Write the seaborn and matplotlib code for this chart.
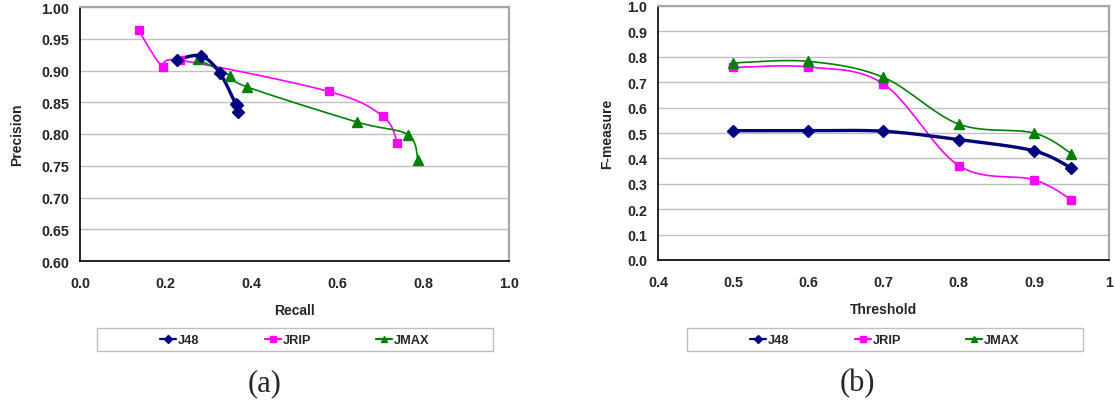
import numpy as np
import pandas as pd
import matplotlib
matplotlib.use("Agg")
import matplotlib.pyplot as plt
from matplotlib.patches import Rectangle
from matplotlib.lines import Line2D
import seaborn as sns

# ---- data -------------------------------------------------------------
classifiers = ["J48", "JRIP", "JMAX"]
thresholds = [0.5, 0.6, 0.7, 0.8, 0.9, 0.95]

# precision / recall per threshold
recall_j48 = [0.369, 0.365, 0.363, 0.326, 0.282, 0.226]
precision_j48 = [0.834, 0.845, 0.847, 0.896, 0.923, 0.917]
recall_jrip = [0.740, 0.706, 0.580, 0.234, 0.193, 0.137]
precision_jrip = [0.786, 0.828, 0.867, 0.916, 0.906, 0.963]
recall_jmax = [0.788, 0.764, 0.645, 0.390, 0.350, 0.274]
precision_jmax = [0.759, 0.799, 0.819, 0.874, 0.892, 0.918]

# F-measure per threshold
fmeasure_j48 = [0.509, 0.509, 0.507, 0.474, 0.430, 0.362]
fmeasure_jrip = [0.758, 0.760, 0.693, 0.372, 0.316, 0.237]
fmeasure_jmax = [0.776, 0.782, 0.719, 0.535, 0.500, 0.419]

x_ticks_a = [0.0, 0.2, 0.4, 0.6, 0.8, 1.0]
y_ticks_a = [0.60, 0.65, 0.70, 0.75, 0.80, 0.85, 0.90, 0.95, 1.00]
x_ticks_b = [0.4, 0.5, 0.6, 0.7, 0.8, 0.9, 1.0]
y_ticks_b = [0.0, 0.1, 0.2, 0.3, 0.4, 0.5, 0.6, 0.7, 0.8, 0.9, 1.0]

# ---- styling ----------------------------------------------------------
colors = {"J48": "#000080", "JRIP": "#FF00FF", "JMAX": "#008000"}
markers = {"J48": "D", "JRIP": "s", "JMAX": "^"}
msizes = {"J48": 6.0, "JRIP": 6.0, "JMAX": 6.5}
lwidths = {"J48": 2.4, "JRIP": 1.2, "JMAX": 1.2}

sns.set_theme(style="white")
plt.rcParams["font.family"] = ["Liberation Sans", "DejaVu Sans"]
plt.rcParams["font.weight"] = "bold"


def smooth(xs, ys, n=40):
    """Catmull-Rom style smoothing through the given points."""
    p = np.column_stack([xs, ys]).astype(float)
    ext = np.vstack([p[0], p, p[-1]])
    out = []
    t = np.linspace(0, 1, n)
    for i in range(1, len(ext) - 2):
        p0, p1, p2, p3 = ext[i - 1], ext[i], ext[i + 1], ext[i + 2]
        c1 = p1 + (p2 - p0) / 6.0
        c2 = p2 - (p3 - p1) / 6.0
        seg = ((1 - t) ** 3)[:, None] * p1 + (3 * (1 - t) ** 2 * t)[:, None] * c1 \
            + (3 * (1 - t) * t ** 2)[:, None] * c2 + (t ** 3)[:, None] * p2
        out.append(seg if i == 1 else seg[1:])
    s = np.vstack(out)
    return s[:, 0], s[:, 1]


pts_a = pd.DataFrame({
    "clf": np.repeat(classifiers, len(thresholds)),
    "recall": recall_j48 + recall_jrip + recall_jmax,
    "precision": precision_j48 + precision_jrip + precision_jmax,
})
pts_b = pd.DataFrame({
    "clf": np.repeat(classifiers, len(thresholds)),
    "threshold": thresholds * 3,
    "fmeasure": fmeasure_j48 + fmeasure_jrip + fmeasure_jmax,
})

W, H = 1115, 402
fig = plt.figure(figsize=(W / 100, H / 100), dpi=100)
ax_a = fig.add_axes([80 / W, 1 - 262 / H, 429 / W, 254 / H])
ax_b = fig.add_axes([658 / W, 1 - 261 / H, 451 / W, 254 / H])


def draw(ax, df, xcol, ycol):
    order = ["JRIP", "JMAX", "J48"]
    for c in order:
        sub = df[df["clf"] == c]
        sx, sy = smooth(sub[xcol].values, sub[ycol].values)
        curve = pd.DataFrame({"x": sx, "y": sy})
        sns.lineplot(data=curve, x="x", y="y", sort=False, estimator=None,
                     color=colors[c], lw=lwidths[c], ax=ax, zorder=3)
        ax.plot(sub[xcol].values, sub[ycol].values, ls="none",
                marker=markers[c], ms=msizes[c], color=colors[c],
                mec=colors[c], zorder=4)


draw(ax_a, pts_a, "recall", "precision")
draw(ax_b, pts_b, "threshold", "fmeasure")


def style(ax, xt, yt, xfmt, yfmt, xlabel, ylabel, ylpad):
    ax.set_xlim(xt[0], xt[-1])
    ax.set_ylim(yt[0], yt[-1])
    ax.set_xticks(xt)
    ax.set_yticks(yt)
    ax.set_xticklabels([xfmt(v) for v in xt])
    ax.set_yticklabels([yfmt(v) for v in yt])
    ax.grid(axis="y", color="#C0C0C0", lw=1.0)
    ax.grid(axis="x", visible=False)
    ax.set_axisbelow(True)
    for s in ["left", "bottom"]:
        ax.spines[s].set_color("black")
        ax.spines[s].set_linewidth(1.2)
    for s in ["top", "right"]:
        ax.spines[s].set_color("#A6A6A6")
        ax.spines[s].set_linewidth(1.6)
    ax.tick_params(axis="x", direction="out", length=4, width=1,
                   color="#A6A6A6", pad=7, labelsize=10.3)
    ax.tick_params(axis="y", length=0, pad=8, labelsize=10.3)
    for lab in ax.get_xticklabels() + ax.get_yticklabels():
        lab.set_fontweight("bold")
    ax.set_xlabel(xlabel, fontsize=10, fontweight="bold", labelpad=9)
    ax.set_ylabel(ylabel, fontsize=10, fontweight="bold", labelpad=ylpad)


style(ax_a, x_ticks_a, y_ticks_a, lambda v: f"{v:.1f}", lambda v: f"{v:.2f}",
      "Recall", "Precision", 12)
style(ax_b, x_ticks_b, y_ticks_b,
      lambda v: "1" if v == 1.0 else f"{v:.1f}", lambda v: f"{v:.1f}",
      "Threshold", "F-measure", 9)

# legends in framed boxes below each chart
handles = [Line2D([0], [0], color=colors[c], lw=1.6, marker=markers[c],
                  ms=4.5, mec=colors[c]) for c in classifiers]
for (x0, x1) in [(97, 493), (687, 1083)]:
    fig.patches.append(Rectangle((x0 / W, 1 - 352 / H), (x1 - x0) / W, 23 / H,
                                 transform=fig.transFigure, fill=False,
                                 edgecolor="#BFBFBF", lw=1.0))
    fig.legend(handles, classifiers, loc="center",
               bbox_to_anchor=((x0 + x1) / 2 / W, 1 - 341 / H), ncol=3,
               frameon=False, handlelength=1.25, handletextpad=0.15,
               columnspacing=5.1, prop={"size": 9.2, "weight": "bold"})

fig.text(265 / W, 1 - 384 / H, "(a)", ha="center", va="center",
         fontsize=22, family="Liberation Serif", fontweight="normal")
fig.text(857 / W, 1 - 384 / H, "(b)", ha="center", va="center",
         fontsize=22, family="Liberation Serif", fontweight="normal")

fig.savefig("out.png", dpi=100)
